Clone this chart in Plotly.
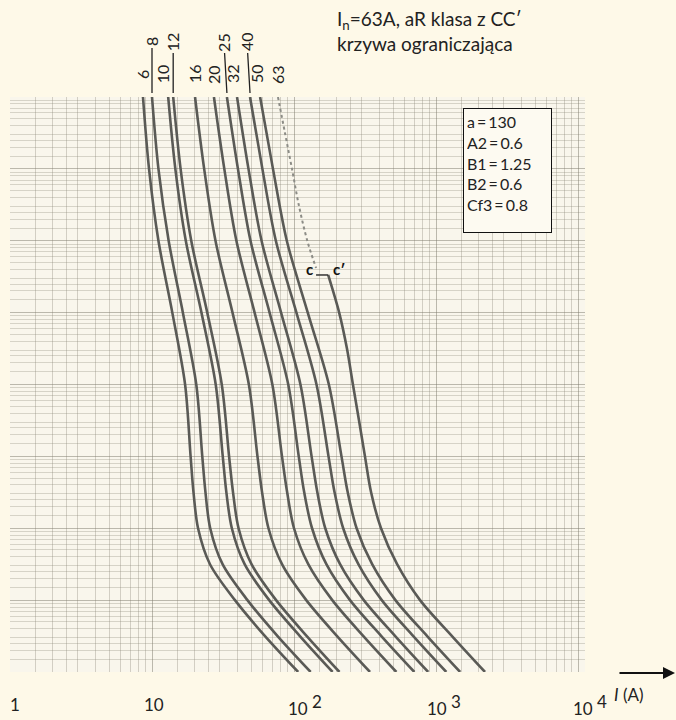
import numpy as np
import plotly.graph_objects as go

# ---- data (current in A, time in s) ----
times = [1e4, 1e3, 100, 10, 1, 0.1, 0.0316, 0.01, 0.00316, 0.001, 0.000316, 0.0001]

i_6 = [8.64, 9.53, 11.1, 13.9, 17.1, 18.7, 19.6, 21.1, 25.6, 38.4, 62.5, 107]
i_8 = [10.0, 11.1, 13.1, 16.5, 20.5, 22.6, 23.8, 25.7, 31.4, 47.0, 76.6, 131]
i_10 = [13.0, 14.6, 17.3, 22.3, 28.1, 31.5, 33.4, 36.5, 44.9, 66.9, 110, 187]
i_12 = [14.1, 15.9, 18.9, 24.5, 31.0, 34.9, 37.2, 40.7, 50.2, 74.8, 123, 209]
i_16 = [20.1, 23.3, 28.0, 36.9, 48.1, 55.3, 59.6, 66.1, 82.3, 122, 201, 343]
i_20 = [27.3, 32.3, 39.3, 52.8, 70.4, 82.3, 89.5, 100, 126, 186, 308, 526]
i_25 = [33.7, 40.3, 49.4, 67.3, 91.1, 108, 118, 134, 169, 248, 412, 704]
i_32 = [39.7, 47.8, 59.1, 81.1, 111, 133, 146, 166, 211, 310, 516, 881]
i_40 = [49.0, 59.9, 74.5, 104, 144, 175, 193, 222, 284, 415, 692, 1182]
i_50 = [57.7, 71.1, 89.0, 125, 176, 216, 239, 276, 355, 518, 866, 1479]

# 63 A: dotted part (c) and solid part (c')
i_63_dot = [77.1, 86.4, 96.8, 108, 124, 143]
t_63_dot = [1e4, 3160, 1e3, 316, 100, 41.8]
i_63 = [174, 208, 236, 260, 287, 316, 349, 410, 532, 772, 1296, 2214]
t_63 = [33.4, 10, 3.16, 1, 0.316, 0.1, 0.0316, 0.01, 0.00316, 0.001, 0.000316, 0.0001]

solid_curves = [i_6, i_8, i_10, i_12, i_16, i_20, i_25, i_32, i_40, i_50]
curve_labels = ["6", "8", "10", "12", "16", "20", "25", "32", "40", "50", "63"]
upper_row = ["8", "12", "25", "40"]

x_tick_vals = [1, 10, 100, 1000, 10000]
x_tick_base = ["1", "10", "10", "10", "10"]
x_tick_exp = ["", "", "2", "3", "4"]

param_names = ["a", "A2", "B1", "B2", "Cf3"]
param_values = ["130", "0.6", "1.25", "0.6", "0.8"]

# ---- figure ----
FONT = "Lato"
LINE = "#5a5a56"
X_MAX_LOG = 4.0493
fig = go.Figure()

for cur in solid_curves:
    fig.add_trace(go.Scatter(x=cur, y=times, mode="lines", hoverinfo="skip",
                             line=dict(color=LINE, width=2.6, shape="spline", smoothing=0.9)))
fig.add_trace(go.Scatter(x=i_63_dot, y=t_63_dot, mode="lines", hoverinfo="skip",
                         line=dict(color="#8c8c86", width=2, dash="dot", shape="spline", smoothing=0.9)))
fig.add_trace(go.Scatter(x=i_63, y=t_63, mode="lines", hoverinfo="skip",
                         line=dict(color=LINE, width=2.6, shape="spline", smoothing=0.9)))
# c -> c' connector (short horizontal stroke)
fig.add_trace(go.Scatter(x=[i_63_dot[-1], i_63[0]], y=[t_63[0], t_63[0]], mode="lines",
                         hoverinfo="skip", line=dict(color="#333", width=1.5)))

# grid values (kept inside the axis ranges)
minor_x = [m * 10 ** k for k in range(0, 5) for m in [1.5, 2, 2.5, 3, 4, 5, 6, 7, 8, 9]
           if np.log10(m * 10 ** k) < X_MAX_LOG]
minor_y = [m * 10.0 ** k for k in range(-4, 4) for m in [1.5, 2, 2.5, 3, 4, 5, 6, 7, 8, 9]]

axis_common = dict(type="log", showticklabels=False, ticks="", showgrid=True,
                   gridcolor="rgba(125,122,108,0.5)", gridwidth=1.3,
                   zeroline=False, showline=False)
fig.update_xaxes(range=[0, X_MAX_LOG], tickvals=x_tick_vals,
                 minor=dict(tickmode="array", tickvals=minor_x, showgrid=True,
                            gridcolor="rgba(140,137,122,0.36)", gridwidth=1),
                 **axis_common)
fig.update_yaxes(range=[-4, 4], tickvals=[10.0 ** k for k in range(-4, 5)],
                 minor=dict(tickmode="array", tickvals=minor_y, showgrid=True,
                            gridcolor="rgba(140,137,122,0.32)", gridwidth=1),
                 **axis_common)

ann = []
# x tick labels
shifts = [5, 2, -8, -11, -7]
anchors = ["center", "center", "left", "left", "left"]
for v, b, e, s, a in zip(x_tick_vals, x_tick_base, x_tick_exp, shifts, anchors):
    txt = b if not e else f"{b} <sup><span style='font-size:17px'>{e}</span></sup>"
    ann.append(dict(x=np.log10(v), xref="x", y=-0.057, yref="paper", text=txt, showarrow=False,
                    xanchor=a, yanchor="middle", xshift=s, font=dict(size=17, color="#222", family=FONT)))

# curve labels at the top
tops = [c[0] for c in solid_curves] + [i_63_dot[0]]
label_shift = {"10": -5, "32": -4, "40": -3, "50": -3}
for lab, top in zip(curve_labels, tops):
    xs = label_shift.get(lab, 0)
    if lab in upper_row:
        ann.append(dict(x=np.log10(top), xref="x", y=1.007, yref="paper", text=lab,
                        textangle=-90, showarrow=True, arrowhead=0, arrowwidth=1.3,
                        arrowcolor="#222", ax=-3 if lab in ("25", "40") else 0, ay=-51,
                        font=dict(size=16, color="#222", family=FONT)))
    else:
        ann.append(dict(x=np.log10(top), xref="x", y=1.04, yref="paper", text=lab,
                        textangle=-90, showarrow=False, xshift=xs, xanchor="center",
                        yanchor="middle", font=dict(size=16, color="#222", family=FONT)))

# c and c' marks
ann.append(dict(x=np.log10(i_63_dot[-1]), xref="x", y=np.log10(t_63[0]), yref="y", text="<b>c</b>",
                showarrow=False, xanchor="center", yanchor="middle", xshift=-7, yshift=6,
                font=dict(size=15, color="#111", family=FONT)))
ann.append(dict(x=np.log10(i_63[0]), xref="x", y=np.log10(t_63[0]), yref="y", text="<b>c′</b>",
                showarrow=False, xanchor="center", yanchor="middle", xshift=11, yshift=6,
                font=dict(size=15, color="#111", family=FONT)))

# parameter box
box_text = "<br>".join(f"{n}\u2009=\u2009{v}" for n, v in zip(param_names, param_values))
ann.append(dict(x=0.7878, xref="paper", y=0.9809, yref="paper", xanchor="left", yanchor="top",
                text=box_text, showarrow=False, align="left", valign="top",
                width=81, height=117, borderpad=3, borderwidth=1, bordercolor="#111",
                bgcolor="#fdfaf1", font=dict(size=16, color="#222", family=FONT)))

# title
ann.append(dict(x=0.5652, xref="paper", y=1.1600, yref="paper", xanchor="left", yanchor="top",
                text="I<sub>n</sub>=63A, aR klasa z CC′<br>krzywa ograniczająca", showarrow=False,
                align="left", font=dict(size=19, color="#222", family=FONT)))

# axis arrow + unit
ann.append(dict(x=1.1565, xref="paper", y=-0.0017, yref="paper", text="", showarrow=True,
                ax=-57, ay=0, arrowhead=2, arrowsize=1.2, arrowwidth=2, arrowcolor="#111"))
ann.append(dict(x=1.0765, xref="paper", y=-0.0383, yref="paper", text="<i>I</i> (A)",
                xanchor="center", yanchor="middle", showarrow=False,
                font=dict(size=17, color="#222", family=FONT)))

fig.update_layout(width=676, height=720, margin=dict(l=10, r=91, t=97, b=48),
                  paper_bgcolor="#fef9e8", plot_bgcolor="#f9f6ec", showlegend=False,
                  annotations=ann)

fig.write_html("out.html", config={"displayModeBar": False},
               post_script="document.body.style.margin='0px';document.body.style.background='#fef9e8';")
